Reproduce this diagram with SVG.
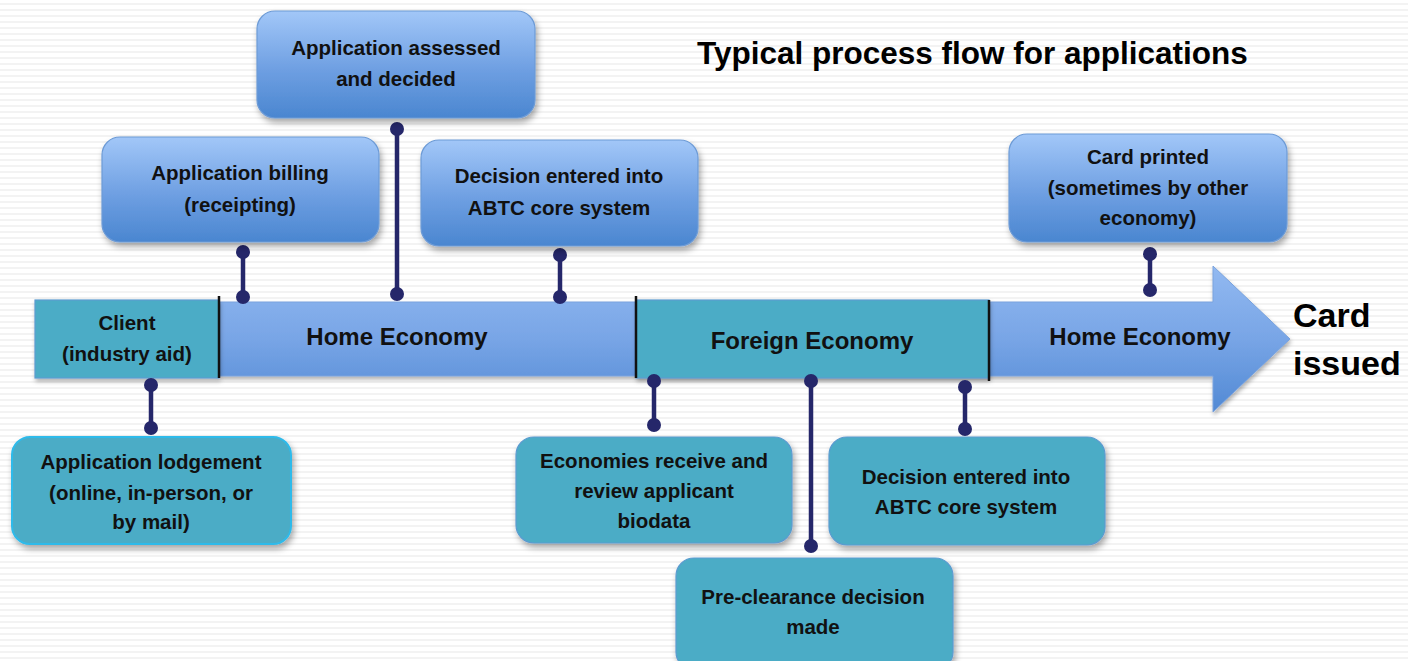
<svg xmlns="http://www.w3.org/2000/svg" width="1408" height="661" viewBox="0 0 1408 661">
<defs>
<pattern id="stripes" width="8" height="6" patternUnits="userSpaceOnUse">
<rect width="8" height="6" fill="#ffffff"/>
<rect y="3" width="8" height="2" fill="#f3f3f3"/>
</pattern>
<linearGradient id="gBox" x1="0" y1="0" x2="0" y2="1">
<stop offset="0" stop-color="#a2c7f8"/>
<stop offset="0.55" stop-color="#6e9fe2"/>
<stop offset="1" stop-color="#4a86d0"/>
</linearGradient>
<linearGradient id="gBar" x1="0" y1="0" x2="0" y2="1">
<stop offset="0" stop-color="#92b9f1"/>
<stop offset="0.5" stop-color="#78a5e6"/>
<stop offset="1" stop-color="#5189d4"/>
</linearGradient>
<filter id="sh" x="-10%" y="-10%" width="125%" height="130%">
<feDropShadow dx="2" dy="4" stdDeviation="3" flood-color="#000" flood-opacity="0.35"/>
</filter>
<filter id="shs" x="-10%" y="-10%" width="125%" height="130%">
<feDropShadow dx="1" dy="3" stdDeviation="2" flood-color="#000" flood-opacity="0.3"/>
</filter>
</defs>
<style>
.blue{fill:url(#gBox);stroke:#6d9bd6;stroke-width:1.2}
.teal{fill:#4bacc6;stroke:#5b9bd0;stroke-width:1.2}
.tealb{fill:#4bacc6;stroke:#2fbaea;stroke-width:2}
.t{font-family:"Liberation Sans",Arial,sans-serif;font-weight:bold;font-size:20.5px;fill:#111;text-anchor:middle}
.big{font-family:"Liberation Sans",Arial,sans-serif;font-weight:bold;font-size:24px;fill:#111;text-anchor:middle}
.con line{stroke:#25276a;stroke-width:4.5}
.con circle{fill:#25276a}
.div{stroke:#111;stroke-width:2.5}
</style>
<rect width="1408" height="661" fill="url(#stripes)"/>

<g id="timeline">
<path d="M219,302 H1213 V266 L1290,339 L1213,412 V376 H219 Z" fill="url(#gBar)" stroke="#7aa3dd" stroke-width="1" filter="url(#shs)"/>
<rect x="35" y="300" width="184" height="78" class="teal" filter="url(#shs)"/>
<rect x="636" y="300" width="353" height="78" class="teal" filter="url(#shs)"/>
<line class="div" x1="219" y1="296" x2="219" y2="378"/>
<line class="div" x1="636" y1="296" x2="636" y2="378"/>
<line class="div" x1="989" y1="300" x2="989" y2="381"/>
</g>

<g id="connectors" class="con">
<line x1="243" y1="252" x2="243" y2="297"/><circle cx="243" cy="252" r="7"/><circle cx="243" cy="297" r="7"/>
<line x1="397" y1="129" x2="397" y2="294"/><circle cx="397" cy="129" r="7"/><circle cx="397" cy="294" r="7"/>
<line x1="560" y1="255" x2="560" y2="297"/><circle cx="560" cy="255" r="7"/><circle cx="560" cy="297" r="7"/>
<line x1="1150" y1="254" x2="1150" y2="290"/><circle cx="1150" cy="254" r="7"/><circle cx="1150" cy="290" r="7"/>
<line x1="151" y1="385" x2="151" y2="428"/><circle cx="151" cy="385" r="7"/><circle cx="151" cy="428" r="7"/>
<line x1="654" y1="381" x2="654" y2="425"/><circle cx="654" cy="381" r="7"/><circle cx="654" cy="425" r="7"/>
<line x1="811" y1="380" x2="811" y2="546"/><circle cx="811" cy="381" r="7"/><circle cx="811" cy="546" r="7"/>
<line x1="965" y1="387" x2="965" y2="429"/><circle cx="965" cy="387" r="7"/><circle cx="965" cy="429" r="7"/>
</g>

<g id="client">
<text class="t" x="127" y="330">Client</text>
<text class="t" x="127" y="361">(industry aid)</text>
</g>
<g id="home1"><text class="big" x="397" y="345">Home Economy</text></g>
<g id="foreign"><text class="big" x="812" y="349">Foreign Economy</text></g>
<g id="home2"><text class="big" x="1140" y="345">Home Economy</text></g>

<g id="assessed">
<rect x="257" y="11" width="278" height="107" rx="18" class="blue" filter="url(#sh)"/>
<text class="t" x="396" y="55">Application assessed</text>
<text class="t" x="396" y="86">and decided</text>
</g>
<g id="billing">
<rect x="102" y="137" width="277" height="105" rx="18" class="blue" filter="url(#sh)"/>
<text class="t" x="240" y="180">Application billing</text>
<text class="t" x="240" y="212">(receipting)</text>
</g>
<g id="decision1">
<rect x="421" y="140" width="277" height="106" rx="18" class="blue" filter="url(#sh)"/>
<text class="t" x="559" y="183">Decision entered into</text>
<text class="t" x="559" y="215">ABTC core system</text>
</g>
<g id="printed">
<rect x="1009" y="134" width="278" height="108" rx="18" class="blue" filter="url(#sh)"/>
<text class="t" x="1148" y="164">Card printed</text>
<text class="t" x="1148" y="195">(sometimes by other</text>
<text class="t" x="1148" y="225">economy)</text>
</g>
<g id="lodgement">
<rect x="12" y="437" width="279" height="107" rx="18" class="tealb" filter="url(#sh)"/>
<text class="t" x="151" y="469">Application lodgement</text>
<text class="t" x="151" y="500">(online, in-person, or</text>
<text class="t" x="151" y="529">by mail)</text>
</g>
<g id="economies">
<rect x="516" y="437" width="276" height="106" rx="18" class="teal" filter="url(#sh)"/>
<text class="t" x="654" y="468">Economies receive and</text>
<text class="t" x="654" y="498">review applicant</text>
<text class="t" x="654" y="528">biodata</text>
</g>
<g id="decision2">
<rect x="829" y="437" width="276" height="108" rx="18" class="teal" filter="url(#sh)"/>
<text class="t" x="966" y="484">Decision entered into</text>
<text class="t" x="966" y="514">ABTC core system</text>
</g>
<g id="preclearance">
<rect x="676" y="558" width="277" height="112" rx="18" class="teal" filter="url(#sh)"/>
<text class="t" x="813" y="604">Pre-clearance decision</text>
<text class="t" x="813" y="634">made</text>
</g>

<g id="title"><text x="697" y="64" font-family="Liberation Sans, Arial, sans-serif" font-weight="bold" font-size="31.5" fill="#000">Typical process flow for applications</text></g>
<g id="issued">
<text x="1293" y="327" font-family="Liberation Sans, Arial, sans-serif" font-weight="bold" font-size="34" fill="#000">Card</text>
<text x="1293" y="375" font-family="Liberation Sans, Arial, sans-serif" font-weight="bold" font-size="34" fill="#000">issued</text>
</g>
</svg>
